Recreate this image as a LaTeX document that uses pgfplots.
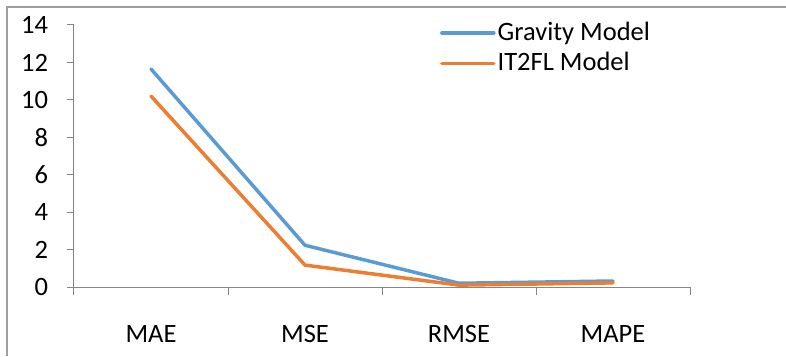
\documentclass[border=0pt]{standalone}
\usepackage{pgfplots}
\pgfplotsset{compat=1.18}
\usepackage{fontspec}
\setmainfont{Carlito}
\definecolor{gblue}{HTML}{5B9BD5}
\definecolor{gorange}{HTML}{ED7D31}
\definecolor{axgray}{HTML}{868686}
\begin{document}
\fontsize{26.5}{32}\selectfont
\begin{tikzpicture}
\useasboundingbox (-74pt,-69pt) rectangle (712pt,287pt);
\draw[color=axgray!80, line width=1.2pt] (-67pt,-69pt) -- (-67pt,280pt) -- (712pt,280pt);
\begin{axis}[
  at={(0pt,0pt)}, anchor=south west,
  scale only axis, width=616pt, height=262pt,
  xmin=-0.5, xmax=3.5, ymin=0, ymax=14,
  axis x line=bottom, axis y line=left,
  axis line style={-, axgray, line width=1pt},
  xtick={0,1,2,3}, xticklabels={MAE,MSE,RMSE,MAPE},
  major x tick style={draw=none},
  minor xtick={-0.5,0.5,1.5,2.5,3.5},
  minor tick length=8pt, major tick length=7pt,
  tick align=outside,
  ytick={0,2,...,14},
  tick style={axgray, line width=1pt},
  every tick label/.append style={font=\fontsize{26.5}{32}\selectfont},
  /pgf/number format/assume math mode=true,
  yticklabel style={xshift=-10pt},
  xticklabel style={yshift=-22pt},
  legend style={at={(0.594,1.02)}, anchor=north west, draw=none, fill=none,
    font=\fontsize{26.5}{32}\selectfont, row sep=4pt, inner sep=0pt},
  legend cell align=left,
  legend image code/.code={\draw[#1, line width=3.5pt] (0pt,0pt) -- (52pt,0pt);},
  clip=false,
]
\addplot[gblue, line width=3.5pt, line join=round, line cap=round] coordinates {(0,11.65) (1,2.23) (2,0.2) (3,0.32)};
\addlegendentry{Gravity Model}
\addplot[gorange, line width=3.5pt, line join=round, line cap=round] coordinates {(0,10.2) (1,1.17) (2,0.1) (3,0.22)};
\addlegendentry{IT2FL Model}
\end{axis}
\end{tikzpicture}
\end{document}
